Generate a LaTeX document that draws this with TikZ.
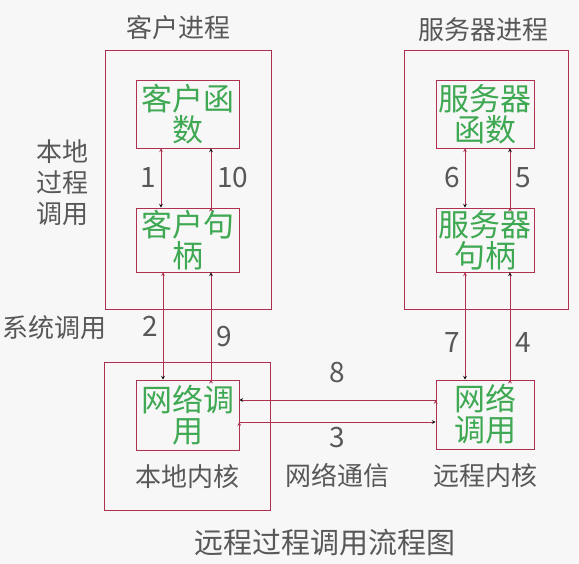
\documentclass[tikz,border=0pt]{standalone}
\usepackage{fontspec}
\setmainfont{Noto Sans CJK SC}
\usetikzlibrary{positioning}

\definecolor{boxred}{RGB}{176,48,80}
\definecolor{fngreen}{RGB}{62,168,82}
\definecolor{txtgray}{RGB}{88,88,88}
\definecolor{bggray}{RGB}{247,247,247}

\begin{document}
\begin{tikzpicture} [
    x=1pt, y=-1pt,
    line width=0.7pt,
    >=stealth,
  ]

  \tikzstyle{procbox} = [
    draw=boxred,
    inner sep=0pt,
    minimum width=166pt,
    minimum height=259pt,
  ]
  \tikzstyle{funcbox} = [
    draw=boxred,
    inner sep=0pt,
    minimum width=103pt,
    minimum height=68pt,
    align=center,
    text=fngreen,
    font=\fontsize{31}{31}\selectfont,
  ]
  \tikzstyle{lbl} = [
    text=txtgray,
    inner sep=2pt,
    align=center,
    font=\fontsize{26}{31}\selectfont,
  ]
  \tikzstyle{num} = [
    text=txtgray,
    inner sep=5pt,
    font=\fontsize{28}{28}\selectfont,
  ]
  \tikzstyle{flow} = [
    ->,
    draw=boxred,
  ]

  \useasboundingbox[fill=bggray] (0,0) rectangle (579,564);

  % client side
  \node[procbox]                                  (cproc)   at (188,179.5) {};
  \node[funcbox]                                  (cfunc)   at (187.5,114) {客户函\\数};
  \node[funcbox, minimum height=64pt]             (chandle) at (187.5,240) {客户句\\柄};
  \node[procbox, minimum height=148pt]            (klocal)  at (187,436)   {};
  \node[funcbox, minimum height=70pt]             (cnet)    at (187.5,415) {网络调\\用};
  \node[lbl]                                      (cname)   at (178,28)    {客户进程};
  \node[lbl, below=12pt of cnet]                  (kname)   {本地内核};
  \node[lbl]                                      (lpc)     at (62,183)    {本地\\过程\\调用};
  \node[lbl]                                      (syscall) at (54,328)    {系统调用};

  % server side
  \node[procbox, minimum width=164pt]             (sproc)   at (486,179.5) {};
  \node[funcbox, minimum width=98pt]              (sfunc)   at (485,114)   {服务器\\函数};
  \node[funcbox, minimum width=98pt,
        minimum height=64pt]                      (shandle) at (485,240)   {服务器\\句柄};
  \node[funcbox, minimum width=98pt,
        minimum height=69pt]                      (rnet)    at (485,414.5) {网络\\调用};
  \node[lbl]                                      (sname)   at (483,30)    {服务器进程};
  \node[lbl, below=12pt of rnet]                  (rname)   {远程内核};

  \node[lbl, font=\fontsize{29}{29}\selectfont]   (title)   at (325,543)   {远程过程调用流程图};

  % flows (yshift is in page units, so up is positive)
  \path[flow] ([xshift=-26.5pt]cfunc.south)   edge node[num, left]  {1}  ([xshift=-26.5pt]chandle.north);
  \path[flow] ([xshift=-24.5pt]chandle.south) edge node[num, left]  {2}  ([xshift=-24.5pt]cnet.north);
  \path[flow] ([yshift=-7pt]cnet.east)        edge node[num, below] (n3) {3} ([yshift=-7.5pt]rnet.west);
  \path[flow] ([xshift=25pt]rnet.north)       edge node[num, right, pos=0.35] {4} ([xshift=25pt]shandle.south);
  \path[flow] ([xshift=25pt]shandle.north)    edge node[num, right] {5}  ([xshift=25pt]sfunc.south);
  \path[flow] ([xshift=-20pt]sfunc.south)     edge node[num, left]  {6}  ([xshift=-20pt]shandle.north);
  \path[flow] ([xshift=-20pt]shandle.south)   edge node[num, left, pos=0.65]  {7}  ([xshift=-20pt]rnet.north);
  \path[flow] ([yshift=14.5pt]rnet.west)      edge node[num, above=12pt] {8} ([yshift=15pt]cnet.east);
  \path[flow] ([xshift=23.5pt]cnet.north)     edge node[num, right, pos=0.4] {9}  ([xshift=23.5pt]chandle.south);
  \path[flow] ([xshift=23.5pt]chandle.north)  edge node[num, right, inner sep=6pt] {10} ([xshift=23.5pt]cfunc.south);

  \node[lbl, below=8pt of n3]                     (netcomm) {网络通信};

\end{tikzpicture}
\end{document}
